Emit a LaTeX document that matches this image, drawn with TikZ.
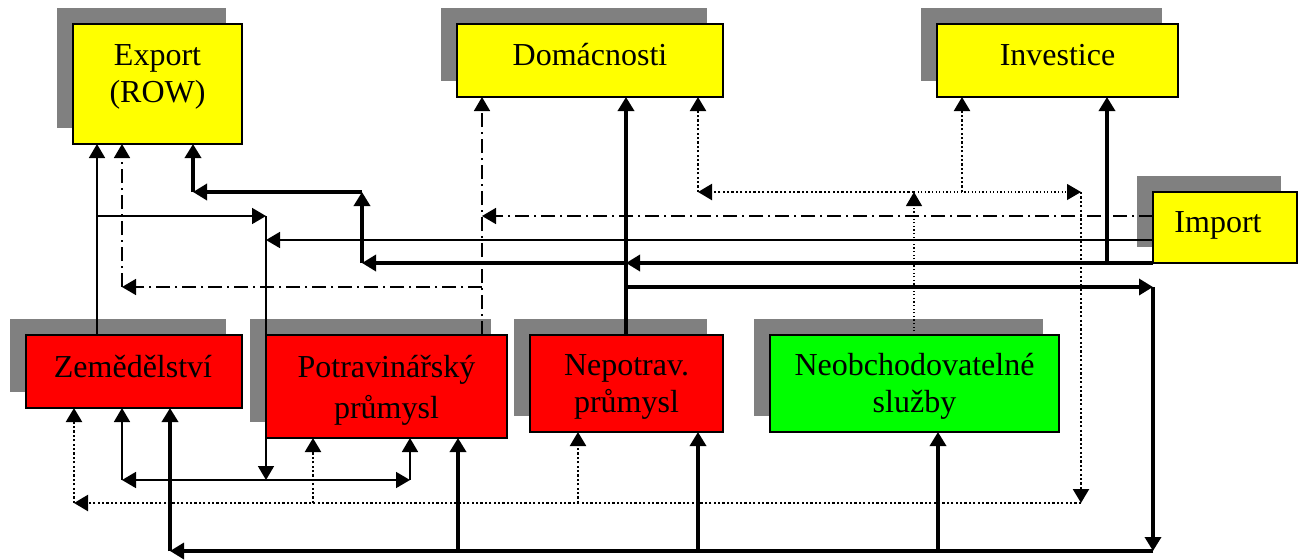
\documentclass[tikz,border=0pt]{standalone}
\usepackage{fontspec}
\setmainfont{Liberation Serif}
\usetikzlibrary{arrows.meta,shadows}
\definecolor{shd}{HTML}{808080}
\definecolor{yel}{HTML}{FFFF00}
\definecolor{rd}{HTML}{FF0000}
\definecolor{gr}{HTML}{00FF00}
\begin{document}
\begin{tikzpicture}[x=0.5pt,y=-0.5pt,
  box/.style={draw=black,line width=1pt,inner sep=0pt,outer sep=0pt,
    general shadow={fill=shd,shadow xshift=-8pt,shadow yshift=8pt}},
  txt/.style={font=\fontsize{16}{18.5}\selectfont,align=center,anchor=base,inner sep=0pt},
  tip/.style={-{Triangle[length=7pt,width=8pt]}},
  thinA/.style={tip,line width=0.85pt},
  thickA/.style={tip,line width=1.7pt},
  ddA/.style={tip,line width=0.8pt,dash pattern=on 7pt off 2.5pt on 1pt off 2.5pt},
  dotThickA/.style={tip,line width=1.1pt,dash pattern=on 1.1pt off 1.1pt},
  dotThinA/.style={tip,line width=0.6pt,dash pattern=on 0.6pt off 1.2pt}
]
\useasboundingbox (0,0) rectangle (1298,559);
% boxes
\node[box,fill=yel,minimum width=84.5pt,minimum height=60pt] (exp) at (157.5,84) {};
\node[box,fill=yel,minimum width=133pt,minimum height=36.5pt] (dom) at (590,60.5) {};
\node[box,fill=yel,minimum width=120.5pt,minimum height=36.5pt] (inv) at (1057.5,60.5) {};
\node[box,fill=yel,minimum width=72pt,minimum height=35.5pt] (imp) at (1225,227.5) {};
\node[box,fill=rd,minimum width=108pt,minimum height=36.5pt] (zem) at (134,371.5) {};
\node[box,fill=rd,minimum width=120.5pt,minimum height=51.5pt] (pot) at (386.5,386.5) {};
\node[box,fill=rd,minimum width=96.5pt,minimum height=48.5pt] (nep) at (626.5,383.5) {};
\node[box,fill=gr,minimum width=144.5pt,minimum height=48.5pt] (neo) at (914.5,383.5) {};
% texts (base = baseline of last line)
\node[txt] (expT) at (157.5,102) {Export\\(ROW)};
\node[txt] (domT) at (590,65) {Domácnosti};
\node[txt] (invT) at (1057.5,65) {Investice};
\node[txt] (impT) at (1218,232) {Import};
\node[txt] (zemT) at (133,377) {Zemědělství};
\node[txt,font=\fontsize{16}{20.5}\selectfont] (potT) at (386.5,418) {Potravinářský\\průmysl};
\node[txt] (nepT) at (626.5,412) {Nepotrav.\\průmysl};
\node[txt] (neoT) at (914.5,412) {Neobchodovatelné\\služby};
% junctions
\coordinate (a1) at (97,216);
\coordinate (a2) at (266,216);
\coordinate (a3) at (266,240);
\coordinate (a4) at (266,480);
\coordinate (a5) at (122,480);
\coordinate (a6) at (410,480);
\coordinate (b1) at (482,287);
\coordinate (b2) at (122,287);
\coordinate (b3) at (482,216);
\coordinate (c1) at (626,287);
\coordinate (c2) at (1153,287);
\coordinate (c3) at (1153,551);
\coordinate (c4) at (170,551);
\coordinate (c5) at (458,551);
\coordinate (c6) at (698,551);
\coordinate (c7) at (938,551);
\coordinate (e1) at (626,263);
\coordinate (e2) at (362,263);
\coordinate (e3) at (362,192);
\coordinate (e4) at (193,192);
\coordinate (e5) at (1107,263);
\coordinate (d1) at (914,192);
\coordinate (d2) at (698,192);
\coordinate (d3) at (1081,192);
\coordinate (d4) at (962,192);
\coordinate (d5) at (1081,503);
\coordinate (d6) at (74,503);
\coordinate (d7) at (313,503);
\coordinate (d8) at (578,503);
% thin solid
\draw[thinA] (zem.north -| a1) -- (exp.south -| a1);
\draw[thinA] (a1) -- (a2);
\draw[thinA] (a3 -| imp.west) -- (a3);
\draw[thinA] (a2) -- (a4);
\draw[thinA] (a4) -- (a5);
\draw[thinA] (a5) -- (a5 |- zem.south);
\draw[thinA] (a4) -- (a6);
\draw[thinA] (a6) -- (a6 |- pot.south);
% dash-dot
\draw[ddA] (b1 |- pot.north) -- (b1 |- dom.south);
\draw[ddA] (b1) -- (b2);
\draw[ddA] (b2) -- (b2 |- exp.south);
\draw[ddA] (b3 -| imp.west) -- (b3);
% thick
\draw[thickA] (c1 |- nep.north) -- (c1 |- dom.south);
\draw[thickA] (c1) -- (c2);
\draw[thickA] (c2) -- (c3);
\draw[thickA] (c3) -- (c4);
\draw[thickA] (c4) -- (c4 |- zem.south);
\draw[thickA] (c5) -- (c5 |- pot.south);
\draw[thickA] (c6) -- (c6 |- nep.south);
\draw[thickA] (c7) -- (c7 |- neo.south);
\draw[thickA] (imp.south west) -- (e1);
\draw[thickA] (e1) -- (e2);
\draw[thickA] (e2) -- (e3);
\draw[thickA] (e3) -- (e4);
\draw[thickA] (e4) -- (e4 |- exp.south);
\draw[thickA] (e5) -- (e5 |- inv.south);
% dotted
\draw[dotThinA] (d1 |- neo.north) -- (d1);
\draw[dotThickA] (d1) -- (d2);
\draw[dotThickA] (d2) -- (d2 |- dom.south);
\draw[dotThinA] (d1) -- (d3);
\draw[dotThickA] (d4) -- (d4 |- inv.south);
\draw[dotThickA] (d3) -- (d5);
\draw[dotThickA] (d5) -- (d6);
\draw[dotThickA] (d6) -- (d6 |- zem.south);
\draw[dotThickA] (d7) -- (d7 |- pot.south);
\draw[dotThickA] (d8) -- (d8 |- nep.south);
\end{tikzpicture}
\end{document}
